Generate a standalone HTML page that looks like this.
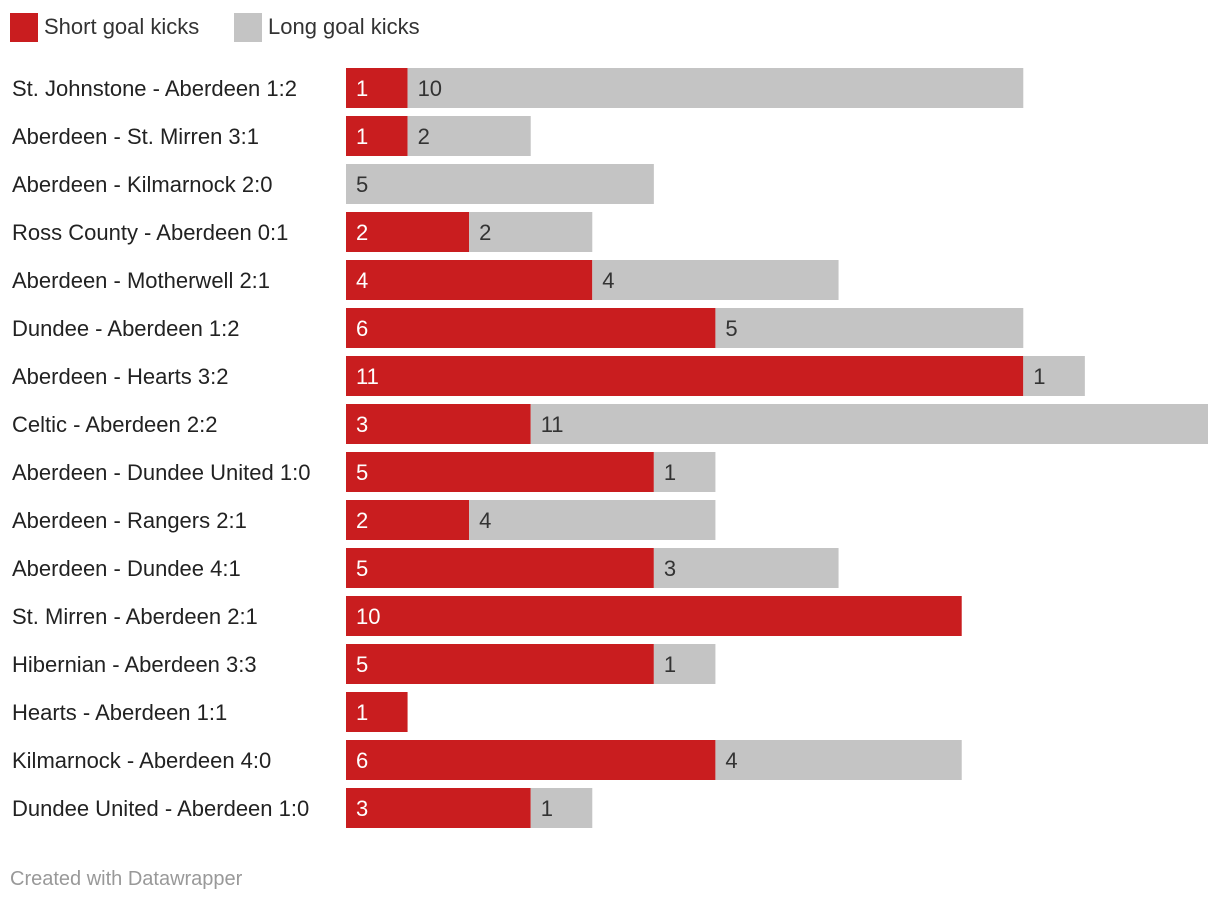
<!DOCTYPE html>
<html><head><meta charset="utf-8">
<style>
body{margin:0;background:#fff;font-family:"Liberation Sans",Roboto,sans-serif;}
#wrap{position:relative;width:1220px;height:906px;overflow:hidden;}
.leg{position:absolute;top:12px;height:30px;font-size:22px;color:#333;line-height:30px;}
.sw{position:absolute;top:13px;width:28px;height:29px;}
.foot{position:absolute;left:10px;top:868px;font-size:20px;color:#999;}
svg text{font-family:"Liberation Sans",Roboto,sans-serif;}
</style></head><body>
<div id="wrap">
<div class="sw" style="left:10px;background:#c91d1f"></div>
<div class="leg" style="left:44px">Short goal kicks</div>
<div class="sw" style="left:234px;background:#c4c4c4"></div>
<div class="leg" style="left:268px">Long goal kicks</div>
<svg id="svg" width="1220" height="906" style="position:absolute;left:0;top:0"></svg>
<div class="foot">Created with Datawrapper</div>
</div>
<script>
const categories=["St. Johnstone - Aberdeen 1:2","Aberdeen - St. Mirren 3:1","Aberdeen - Kilmarnock 2:0","Ross County - Aberdeen 0:1","Aberdeen - Motherwell 2:1","Dundee - Aberdeen 1:2","Aberdeen - Hearts 3:2","Celtic - Aberdeen 2:2","Aberdeen - Dundee United 1:0","Aberdeen - Rangers 2:1","Aberdeen - Dundee 4:1","St. Mirren - Aberdeen 2:1","Hibernian - Aberdeen 3:3","Hearts - Aberdeen 1:1","Kilmarnock - Aberdeen 4:0","Dundee United - Aberdeen 1:0"];
const shortKicks=[1,1,0,2,4,6,11,3,5,2,5,10,5,1,6,3];
const longKicks=[10,2,5,2,4,5,1,11,1,4,3,0,1,0,4,1];
const svg=document.getElementById('svg');
const NS='http://www.w3.org/2000/svg';
const x0=346,x1=1208;
const maxV=Math.max(...shortKicks.map((s,i)=>s+longKicks[i]));
const xs=v=>x0+v*(x1-x0)/maxV;
const y=i=>68+48*i;
function mk(t,a){const e=document.createElementNS(NS,t);for(const k in a)e.setAttribute(k,a[k]);svg.appendChild(e);return e;}
categories.forEach((c,i)=>{
  const lab=mk('text',{x:12,y:y(i)+28,'font-size':22,fill:'#222'});lab.textContent=c;
  
  
  const s=shortKicks[i],l=longKicks[i];
  if(s>0){
    const r=mk('rect',{x:xs(0),y:y(i),width:xs(s)-xs(0),height:40,fill:'#c91d1f'});
    
    
    const t=mk('text',{x:xs(0)+10,y:y(i)+28,'font-size':22,fill:'#fff'});t.textContent=s;
    
    
  }
  if(l>0){
    const r=mk('rect',{x:xs(s),y:y(i),width:xs(s+l)-xs(s),height:40,fill:'#c4c4c4'});
    
    
    const t=mk('text',{x:xs(s)+10,y:y(i)+28,'font-size':22,fill:'#333'});t.textContent=l;
    
    
  }
});
</script>
</body></html>
